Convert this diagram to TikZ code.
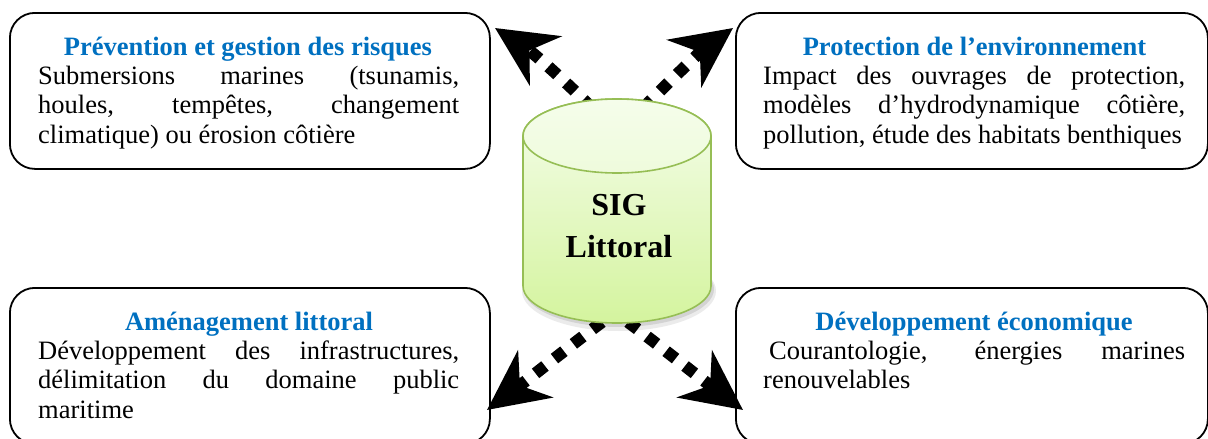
\documentclass[tikz,border=0pt]{standalone}
\usepackage{fontspec}
\setmainfont{Liberation Serif}
\usetikzlibrary{arrows.meta}
\definecolor{ttlblue}{RGB}{0,112,192}
\definecolor{cyltop}{RGB}{245,253,235}
\definecolor{cylbot}{RGB}{212,244,158}
\definecolor{cylline}{RGB}{150,190,85}
\tikzset{
  box/.style={draw=black, line width=1.8pt, rounded corners=25pt, anchor=north west,
    minimum width=#1, minimum height=156pt, inner sep=0pt},
  ttl/.style={anchor=base, inner sep=0pt, text=ttlblue, font=\bfseries\fontsize{26.5}{29.5}\selectfont},
  body/.style={anchor=base west, inner sep=0pt, font=\fontsize{26.5}{29.5}\selectfont},
  sig/.style={anchor=base, inner sep=0pt, font=\bfseries\fontsize{32}{40}\selectfont},
  flow/.style={line width=12pt, dash pattern=on 12pt off 12pt,
    -{Stealth[length=60pt, width=58pt, inset=19pt]}}
}
\newcommand{\jline}[2]{\makebox[#1][s]{#2}}
\begin{document}
\begin{tikzpicture}[x=1pt,y=-1pt]
\useasboundingbox (0,0) rectangle (1208,439);
\clip (0,0) rectangle (1208,439);

% boxes
\node[box=480pt] (tl) at (9,12) {};
\node[box=472pt] (tr) at (735,12) {};
\node[box=480pt] (bl) at (9,287) {};
\node[box=472pt] (br) at (735,287) {};

% texts
\node[ttl] (tlt) at (248,55) {Prévention et gestion des risques};
\node[body] (tlb) at (38,84) {\parbox[t]{421pt}{\jline{421pt}{Submersions marines (tsunamis,}\\\jline{421pt}{houles, tempêtes, changement}\\climatique) ou érosion côtière}};

\node[ttl] (trt) at (974.5,55) {Protection de l’environnement};
\node[body] (trb) at (763,84) {\parbox[t]{422pt}{\jline{422pt}{Impact des ouvrages de protection,}\\\jline{422pt}{modèles d’hydrodynamique côtière,}\\pollution, étude des habitats benthiques}};

\node[ttl] (blt) at (249,330) {Aménagement littoral};
\node[body] (blb) at (38,359) {\parbox[t]{421pt}{\jline{421pt}{Développement des infrastructures,}\\\jline{421pt}{délimitation du domaine public}\\maritime}};

\node[ttl] (brt) at (974,330) {Développement économique};
\node[body] (brb) at (763,359) {\parbox[t]{422pt}{\hspace*{6pt}\jline{416pt}{Courantologie, énergies marines}\\renouvelables}};

% connector coordinates
\coordinate (s1) at (592,108);
\coordinate (e1) at (495,28);
\coordinate (s2) at (643,108);
\coordinate (e2) at (733,28);
\coordinate (s3) at (602,322);
\coordinate (e3) at (487,410);
\coordinate (s4) at (628,322);
\coordinate (e4) at (743,410);

\draw[flow] (s1) .. controls (560,76) and (532,52) .. (e1);
\draw[flow] (s2) .. controls (675,76) and (700,52) .. (e2);
\draw[flow] (s3) .. controls (570,346) and (530,378) .. (e3);
\draw[flow] (s4) .. controls (660,346) and (700,378) .. (e4);

% cylinder shadow
\fill[black, opacity=0.08] (619,291) ellipse [x radius=97, y radius=40];
\fill[black, opacity=0.10] (619,289) ellipse [x radius=95, y radius=38];
% cylinder
\shade[top color=cyltop, bottom color=cylbot, draw=cylline, line width=1.6pt]
  (523,136) -- (523,286) arc[start angle=180, end angle=0, x radius=94, y radius=37]
  -- (711,136) arc[start angle=0, end angle=-180, x radius=94, y radius=37] -- cycle;
\shade[top color=cyltop, bottom color=cyltop!80!cylbot, draw=cylline, line width=1.6pt]
  (617,136) ellipse [x radius=94, y radius=37];
\node[inner sep=0pt, minimum width=188pt, minimum height=224pt] (cyl) at (617,211) {};
\node[sig] (sigA) at (619,215) {SIG};
\node[sig] (sigB) at (619,257) {Littoral};
\end{tikzpicture}
\end{document}
